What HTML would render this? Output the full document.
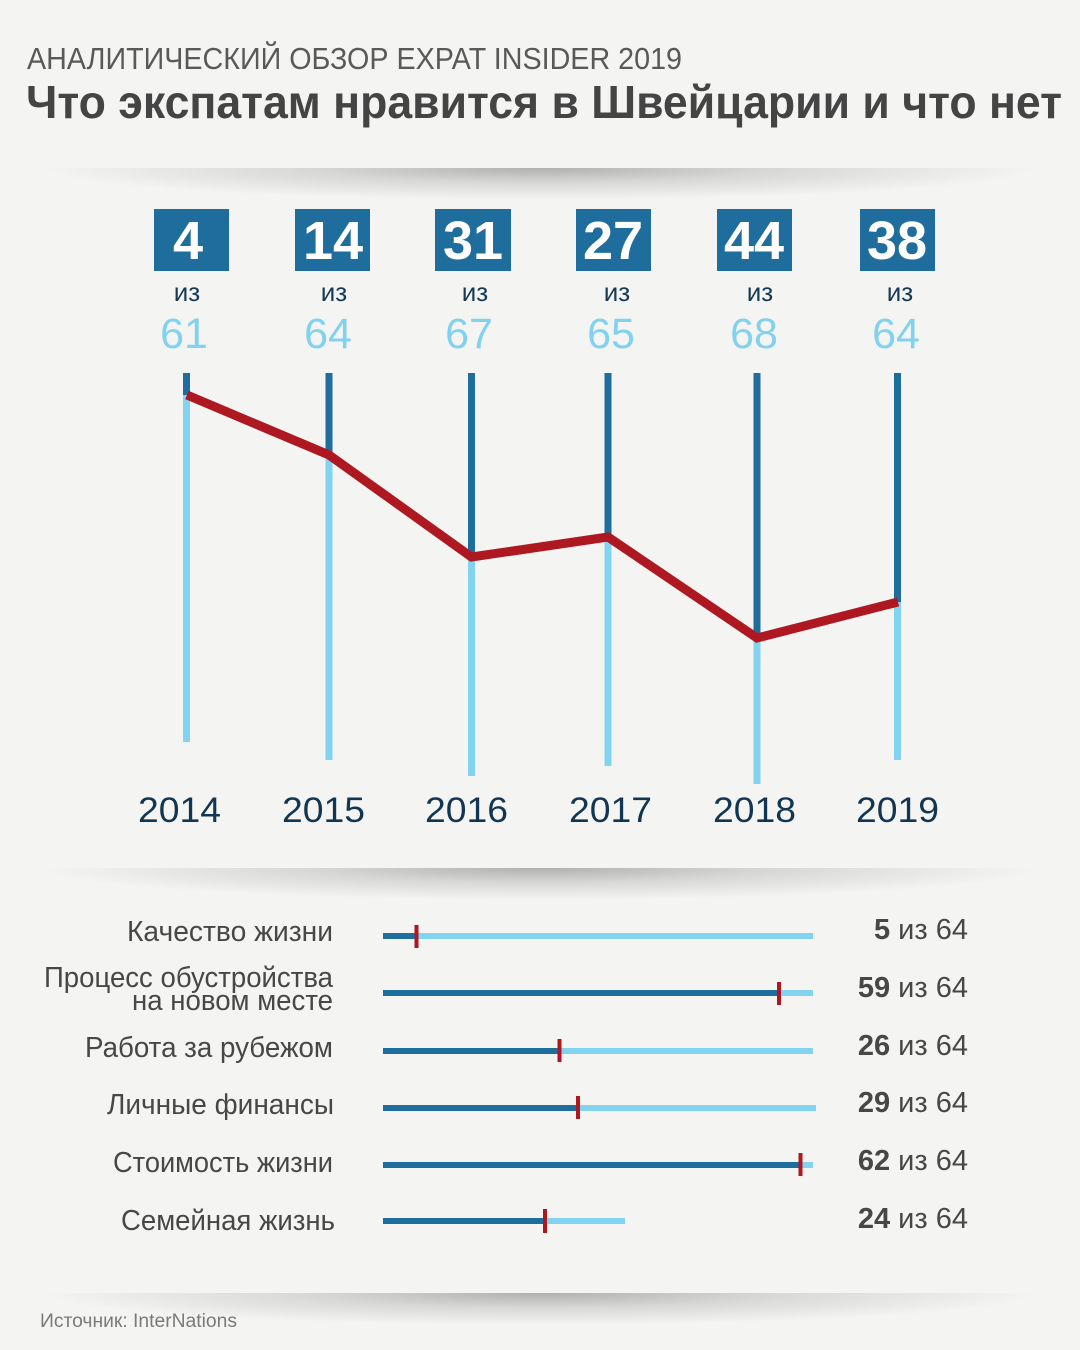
<!DOCTYPE html>
<html>
<head>
<meta charset="utf-8">
<style>
  html,body{margin:0;padding:0;background:#f4f4f2;}
  svg{display:block;}
  text{font-family:"Liberation Sans","Noto Sans CJK SC",sans-serif;}
</style>
</head>
<body>
<svg width="1080" height="1350" viewBox="0 0 1080 1350" xmlns="http://www.w3.org/2000/svg">
  <defs>
    <radialGradient id="sh" cx="0.5" cy="0" r="0.5">
      <stop offset="0" stop-color="#000" stop-opacity="0.28"/>
      <stop offset="0.45" stop-color="#000" stop-opacity="0.12"/>
      <stop offset="1" stop-color="#000" stop-opacity="0"/>
    </radialGradient>
  </defs>
  <rect width="1080" height="1350" fill="#f4f4f2"/>

  <!-- Titles -->
  <text x="27" y="69" font-size="31" fill="#595959" textLength="655" lengthAdjust="spacingAndGlyphs">АНАЛИТИЧЕСКИЙ ОБЗОР EXPAT INSIDER 2019</text>
  <text x="26" y="118" font-size="46" font-weight="bold" fill="#444" textLength="1036" lengthAdjust="spacingAndGlyphs">Что экспатам нравится в Швейцарии и что нет</text>

  <!-- shadow dividers -->
  <rect x="40" y="168" width="1000" height="64" fill="url(#sh)"/>
  <rect x="40" y="868" width="1000" height="64" fill="url(#sh)"/>
  <rect x="40" y="1293" width="1000" height="64" fill="url(#sh)"/>

  <!-- Rank boxes -->
  <g fill="#1f6d9c">
    <rect x="154" y="209" width="75" height="62"/>
    <rect x="295" y="209" width="75" height="62"/>
    <rect x="435" y="209" width="76" height="62"/>
    <rect x="576" y="209" width="75" height="62"/>
    <rect x="717" y="209" width="75" height="62"/>
    <rect x="860" y="209" width="75" height="62"/>
  </g>
  <g font-size="54" font-weight="bold" fill="#fff" text-anchor="middle">
    <text x="188" y="259">4</text>
    <text x="333" y="259">14</text>
    <text x="473" y="259">31</text>
    <text x="613" y="259">27</text>
    <text x="754" y="259">44</text>
    <text x="897" y="259">38</text>
  </g>
  <g font-size="26" fill="#163a55" text-anchor="middle">
    <text x="187" y="301">из</text>
    <text x="334" y="301">из</text>
    <text x="475" y="301">из</text>
    <text x="617" y="301">из</text>
    <text x="760" y="301">из</text>
    <text x="900" y="301">из</text>
  </g>
  <g font-size="43" fill="#82d2ef" text-anchor="middle">
    <text x="184" y="348">61</text>
    <text x="328" y="348">64</text>
    <text x="469" y="348">67</text>
    <text x="611" y="348">65</text>
    <text x="754" y="348">68</text>
    <text x="896" y="348">64</text>
  </g>

  <!-- vertical lines -->
  <g stroke-width="7">
    <line x1="186.5" y1="373" x2="186.5" y2="395" stroke="#1f6d9c"/>
    <line x1="186.5" y1="395" x2="186.5" y2="742" stroke="#82d3ef"/>
    <line x1="329" y1="373" x2="329" y2="455" stroke="#1f6d9c"/>
    <line x1="329" y1="455" x2="329" y2="760" stroke="#82d3ef"/>
    <line x1="471.5" y1="373" x2="471.5" y2="557" stroke="#1f6d9c"/>
    <line x1="471.5" y1="557" x2="471.5" y2="776" stroke="#82d3ef"/>
    <line x1="608" y1="373" x2="608" y2="537" stroke="#1f6d9c"/>
    <line x1="608" y1="537" x2="608" y2="766" stroke="#82d3ef"/>
    <line x1="757" y1="373" x2="757" y2="638" stroke="#1f6d9c"/>
    <line x1="757" y1="638" x2="757" y2="784" stroke="#82d3ef"/>
    <line x1="897.5" y1="373" x2="897.5" y2="602" stroke="#1f6d9c"/>
    <line x1="897.5" y1="602" x2="897.5" y2="760" stroke="#82d3ef"/>
  </g>
  <polyline points="187,395 329,455 471.5,557 608,537 757,638 898,602" fill="none" stroke="#ae1820" stroke-width="9" stroke-linejoin="miter"/>

  <!-- years -->
  <g font-size="35" fill="#123651">
    <text x="138" y="822" textLength="83" lengthAdjust="spacingAndGlyphs">2014</text>
    <text x="282" y="822" textLength="83" lengthAdjust="spacingAndGlyphs">2015</text>
    <text x="425" y="822" textLength="83" lengthAdjust="spacingAndGlyphs">2016</text>
    <text x="569" y="822" textLength="83" lengthAdjust="spacingAndGlyphs">2017</text>
    <text x="713" y="822" textLength="83" lengthAdjust="spacingAndGlyphs">2018</text>
    <text x="856" y="822" textLength="83" lengthAdjust="spacingAndGlyphs">2019</text>
  </g>

  <!-- bottom labels -->
  <g font-size="29" fill="#474747">
    <text x="127" y="941" textLength="206" lengthAdjust="spacingAndGlyphs">Качество жизни</text>
    <text x="44" y="987" textLength="289" lengthAdjust="spacingAndGlyphs">Процесс обустройства</text>
    <text x="132" y="1010" textLength="201" lengthAdjust="spacingAndGlyphs">на новом месте</text>
    <text x="85" y="1057" textLength="248" lengthAdjust="spacingAndGlyphs">Работа за рубежом</text>
    <text x="107" y="1114" textLength="227" lengthAdjust="spacingAndGlyphs">Личные финансы</text>
    <text x="113" y="1172" textLength="220" lengthAdjust="spacingAndGlyphs">Стоимость жизни</text>
    <text x="121" y="1230" textLength="214" lengthAdjust="spacingAndGlyphs">Семейная жизнь</text>
  </g>

  <!-- bars -->
  <g>
    <rect x="383" y="933" width="430" height="6" fill="#82d3ef"/>
    <rect x="383" y="933" width="34" height="6" fill="#1f6d9c"/>
    <rect x="414.5" y="925" width="4" height="23" fill="#b0161f"/>

    <rect x="383" y="990" width="430" height="6" fill="#82d3ef"/>
    <rect x="383" y="990" width="396" height="6" fill="#1f6d9c"/>
    <rect x="777" y="982" width="4" height="23" fill="#b0161f"/>

    <rect x="383" y="1048" width="430" height="6" fill="#82d3ef"/>
    <rect x="383" y="1048" width="176" height="6" fill="#1f6d9c"/>
    <rect x="557.5" y="1039" width="4" height="23" fill="#b0161f"/>

    <rect x="383" y="1105" width="433" height="6" fill="#82d3ef"/>
    <rect x="383" y="1105" width="195" height="6" fill="#1f6d9c"/>
    <rect x="576" y="1096" width="4" height="23" fill="#b0161f"/>

    <rect x="383" y="1162" width="430" height="6" fill="#82d3ef"/>
    <rect x="383" y="1162" width="417" height="6" fill="#1f6d9c"/>
    <rect x="798.5" y="1153" width="4" height="23" fill="#b0161f"/>

    <rect x="383" y="1218" width="242" height="6" fill="#82d3ef"/>
    <rect x="383" y="1218" width="162" height="6" fill="#1f6d9c"/>
    <rect x="543" y="1209" width="4" height="24" fill="#b0161f"/>
  </g>

  <!-- right values -->
  <g font-size="29" fill="#474747" text-anchor="end">
    <text x="968" y="939"><tspan font-weight="bold">5</tspan> из 64</text>
    <text x="968" y="997"><tspan font-weight="bold">59</tspan> из 64</text>
    <text x="968" y="1055"><tspan font-weight="bold">26</tspan> из 64</text>
    <text x="968" y="1112"><tspan font-weight="bold">29</tspan> из 64</text>
    <text x="968" y="1170"><tspan font-weight="bold">62</tspan> из 64</text>
    <text x="968" y="1228"><tspan font-weight="bold">24</tspan> из 64</text>
  </g>

  <text x="40" y="1327" font-size="19" fill="#7a7a7a" textLength="197" lengthAdjust="spacingAndGlyphs">Источник: InterNations</text>
</svg>
</body>
</html>
